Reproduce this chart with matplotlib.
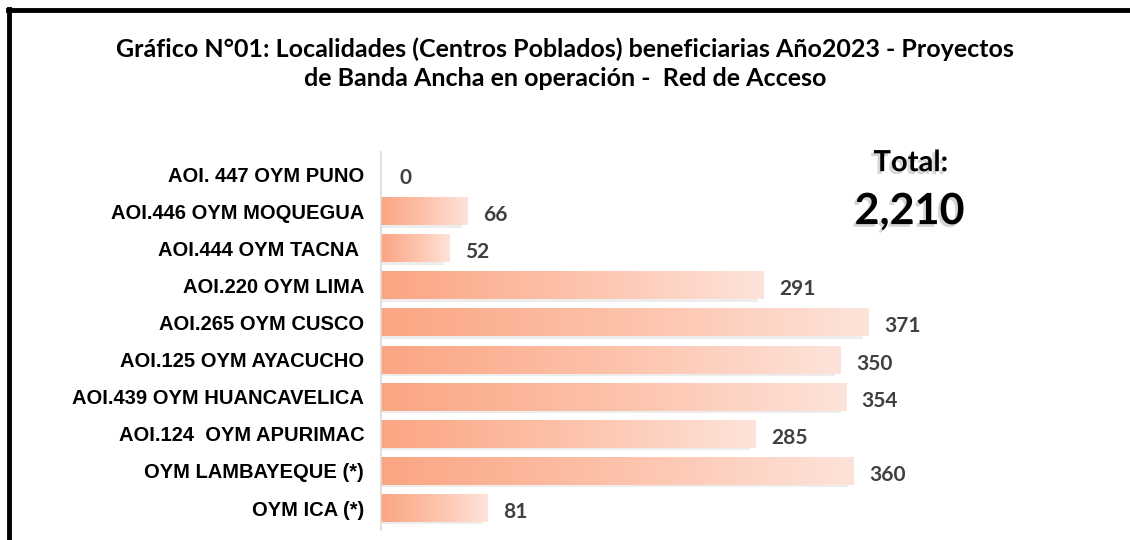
import numpy as np
import matplotlib
matplotlib.use("Agg")
import matplotlib.pyplot as plt
import matplotlib.patheffects as pe
from matplotlib.colors import LinearSegmentedColormap
from matplotlib.lines import Line2D

# datos
localidades = [
    "AOI. 447 OYM PUNO",
    "AOI.446 OYM MOQUEGUA",
    "AOI.444 OYM TACNA ",
    "AOI.220 OYM LIMA",
    "AOI.265 OYM CUSCO",
    "AOI.125 OYM AYACUCHO",
    "AOI.439 OYM HUANCAVELICA",
    "AOI.124  OYM APURIMAC",
    "OYM LAMBAYEQUE (*)",
    "OYM ICA (*)",
]
beneficiarias = [0, 66, 52, 291, 371, 350, 354, 285, 360, 81]
total = "2,210"
titulo = ("Gráfico N°01: Localidades (Centros Poblados) beneficiarias Año2023 - Proyectos\n"
          "de Banda Ancha en operación -  Red de Acceso")

fig = plt.figure(figsize=(11.3, 5.4), dpi=100)
ax = fig.add_axes([0.337, 0.018, 0.651, 0.700])

cmap = LinearSegmentedColormap.from_list("salmon", ["#fba583", "#fdc2aa", "#fee3da"])
grad = np.linspace(0, 1, 256).reshape(1, -1)

y = np.arange(len(localidades))
alto = 0.74
for yi, v in zip(y, beneficiarias):
    if v <= 0:
        continue
    # sombra suave
    ax.barh(yi + 0.06, v - 4, height=alto, color="#000000", alpha=0.07, zorder=1)
    ax.imshow(grad, cmap=cmap, aspect="auto", zorder=2,
              extent=(0, v, yi + alto / 2, yi - alto / 2), interpolation="bilinear")
    ax.text(v + 12, yi + 0.1, str(v), va="center", ha="left", fontsize=15,
            fontweight="bold", color="#404040", family="Lato")
ax.text(14, 0.1, "0", va="center", ha="left", fontsize=15,
        fontweight="bold", color="#404040", family="Lato")

ax.set_xlim(0, 560)
ax.set_ylim(len(localidades) - 0.4, -0.6)
ax.set_yticks(y)
ax.set_yticklabels(localidades, fontsize=14.5, fontweight="bold", family="Liberation Sans")
ax.tick_params(axis="y", length=0, pad=12)
ax.set_xticks([])
for s in ["top", "right", "bottom"]:
    ax.spines[s].set_visible(False)
ax.spines["left"].set_color("#d9d9d9")
ax.spines["left"].set_linewidth(1.2)

fig.text(0.5, 0.882, titulo, ha="center", va="center", fontsize=18,
         fontweight="bold", family="Lato", linespacing=1.36)

sombra = [pe.withSimplePatchShadow(offset=(-2, -2), shadow_rgbFace="#888888", alpha=0.35)]
fig.text(0.806, 0.683, "Total:", ha="center", va="baseline", fontsize=21,
         fontweight="bold", family="Lato", path_effects=sombra)
fig.text(0.805, 0.585, total, ha="center", va="baseline", fontsize=31,
         fontweight="bold", family="Lato", path_effects=sombra)

# marco
fig.add_artist(Line2D([0.007, 1.0], [0.981, 0.981], color="black", lw=3.5,
                      transform=fig.transFigure))
fig.add_artist(Line2D([0.008, 0.008], [0.0, 0.983], color="black", lw=3.5,
                      transform=fig.transFigure))

fig.savefig("out.png", dpi=100)
